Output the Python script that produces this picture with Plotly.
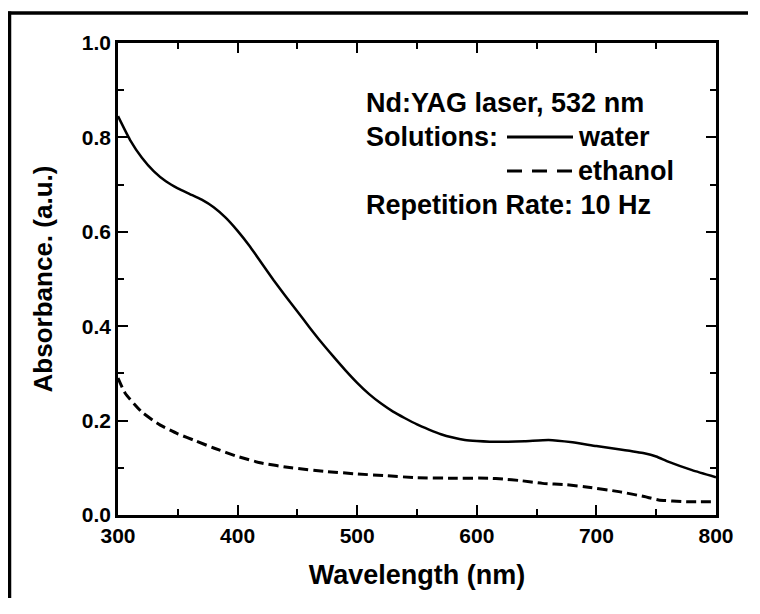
import plotly.graph_objects as go

# ---- data ----
water_wl = [300, 310, 320, 330, 340, 350, 360, 370, 380, 390, 400, 410, 420, 430, 440,
            450, 460, 470, 480, 490, 500, 510, 520, 530, 540, 550, 560, 570, 580, 590,
            600, 620, 640, 660, 680, 700, 720, 740, 750, 760, 780, 800]
water_abs = [0.845, 0.795, 0.757, 0.728, 0.707, 0.692, 0.680, 0.668, 0.652, 0.630, 0.602,
             0.570, 0.534, 0.498, 0.464, 0.431, 0.398, 0.366, 0.336, 0.307, 0.280, 0.256,
             0.236, 0.219, 0.205, 0.192, 0.181, 0.171, 0.164, 0.159, 0.157, 0.155, 0.156,
             0.159, 0.154, 0.146, 0.139, 0.131, 0.124, 0.113, 0.095, 0.080]

ethanol_wl = [300, 306, 320, 335, 350, 365, 380, 400, 420, 445, 475, 500, 525, 550, 580,
              610, 622, 636, 655, 675, 690, 720, 740, 752, 775, 800]
ethanol_abs = [0.290, 0.258, 0.218, 0.191, 0.172, 0.157, 0.142, 0.124, 0.110, 0.100, 0.092,
               0.087, 0.083, 0.079, 0.078, 0.078, 0.076, 0.073, 0.067, 0.064, 0.060, 0.049,
               0.039, 0.032, 0.028, 0.028]

x_ticks = [300, 400, 500, 600, 700, 800]
y_ticks = [0.0, 0.2, 0.4, 0.6, 0.8, 1.0]
y_tick_labels = ["0.0", "0.2", "0.4", "0.6", "0.8", "1.0"]

# ---- layout geometry (figure pixels; page adds an 8px body margin) ----
OFF = 8
W, H = 740, 590
L, R, T, B = 118 - OFF, 716 - OFF, 43 - OFF, 515 - OFF


def px(xpage):
    return (xpage - OFF - L) / (R - L)


def py(ypage):
    return (B - (ypage - OFF)) / (B - T)


FONT = "Liberation Sans, Arial, sans-serif"

fig = go.Figure()
fig.add_trace(go.Scatter(x=water_wl, y=water_abs, mode="lines", name="water",
                         line=dict(color="black", width=2.5, shape="spline", smoothing=0.5)))
fig.add_trace(go.Scatter(x=ethanol_wl, y=ethanol_abs, mode="lines", name="ethanol",
                         line=dict(color="black", width=3, dash="10px,5px",
                                   shape="spline", smoothing=0.5)))

axis_common = dict(showgrid=False, zeroline=False, showline=True, linecolor="black",
                   linewidth=2.5, mirror="ticks", ticks="inside", ticklen=10,
                   tickwidth=2, tickcolor="black",
                   tickfont=dict(family=FONT, size=21, color="black", weight="bold"))

fig.update_xaxes(range=[300, 800], tickvals=x_ticks, ticktext=[str(v) for v in x_ticks],
                 minor=dict(dtick=50, ticks="inside", ticklen=6, tickwidth=2, tickcolor="black"),
                 title=dict(text="<b>Wavelength (nm)</b>", standoff=20,
                            font=dict(family=FONT, size=27, color="black")),
                 **axis_common)
fig.update_yaxes(range=[0, 1.0], tickvals=y_ticks, ticktext=y_tick_labels,
                 minor=dict(dtick=0.1, ticks="inside", ticklen=6, tickwidth=2, tickcolor="black"),
                 title=dict(text="<b>Absorbance. (a.u.)</b>", standoff=22,
                            font=dict(family=FONT, size=26, color="black")),
                 **axis_common)

ann_font = dict(family=FONT, size=27, color="black")
texts = [
    ("<b>Nd:YAG laser, 532 nm</b>", 364, 103),
    ("<b>Solutions:</b>", 364, 137),
    ("<b>water</b>", 576, 137),
    ("<b>ethanol</b>", 576, 171),
    ("<b>Repetition Rate: 10 Hz</b>", 364, 205),
]
annotations = [dict(text=t, x=px(xp), y=py(yp), xref="paper", yref="paper",
                    xanchor="left", yanchor="middle", showarrow=False, font=ann_font)
               for t, xp, yp in texts]

shapes = [
    # legend samples
    dict(type="line", xref="paper", yref="paper", x0=px(507), x1=px(573), y0=py(137), y1=py(137),
         line=dict(color="black", width=3)),
    dict(type="line", xref="paper", yref="paper", x0=px(507), x1=px(573), y0=py(171), y1=py(171),
         line=dict(color="black", width=3, dash="15px,10px")),
    # outer frame (top and left edges visible)
    dict(type="line", xref="paper", yref="paper", x0=px(8), x1=px(748), y0=py(13), y1=py(13),
         line=dict(color="black", width=3.5)),
    dict(type="line", xref="paper", yref="paper", x0=px(9.5), x1=px(9.5), y0=py(11.5), y1=py(598),
         line=dict(color="black", width=3.5)),
]

fig.update_layout(width=W, height=H, margin=dict(l=L, r=W - R, t=T, b=H - B),
                  paper_bgcolor="white", plot_bgcolor="white", showlegend=False,
                  annotations=annotations, shapes=shapes)

fig.write_html("out.html")
